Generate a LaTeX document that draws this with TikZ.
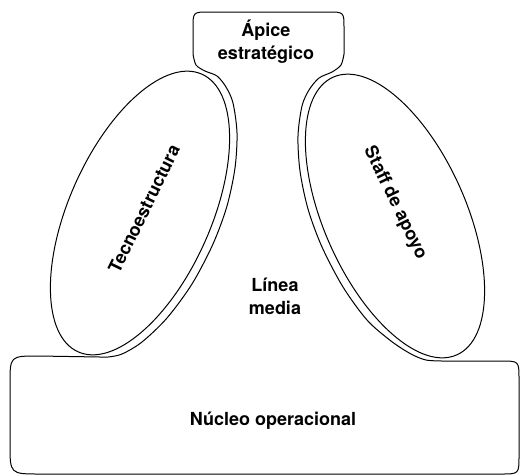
\documentclass[tikz,border=0pt]{standalone}
\usepackage{fontspec}
\setmainfont{TeX Gyre Heros}
\usetikzlibrary{shapes.geometric}

\begin{document}
\begin{tikzpicture}[x=1pt,y=-1pt,
  outline/.style={draw,line width=1pt},
  blob/.style={draw,line width=1pt,ellipse,inner sep=0pt,minimum width=304pt,minimum height=142pt},
  lbl/.style={font=\bfseries\fontsize{18}{23}\selectfont,align=center,inner sep=0pt}]
\useasboundingbox (0,0) rectangle (520,475);
\draw[outline] (100,357) -- (38,356) .. controls (10,356) .. (10,384) -- (10,444) .. controls (10,474) .. (40,474)
  -- (501,474) .. controls (519,474) .. (519,456) -- (519,379) .. controls (519,361) .. (501,361) -- (442,361)
  -- plot[smooth,tension=0.5] coordinates {(442,361) (426,360) (411,354) (391,341) (367,320) (343,287) (322,247) (308,209) (300,171) (298,136) (302,106) (309,90) (319,78) (332,72) (341,65) (344,54)}
  -- (344,28) .. controls (344,12) .. (328,12) -- (209,12) .. controls (193,12) .. (193,28)
  -- plot[smooth,tension=0.5] coordinates {(193,54) (196,65) (205,71) (217,76) (226,87) (233,103) (237,133) (235,168) (227,206) (213,244) (192,284) (167,318) (142,342) (122,354) (108,357) (100,357)} -- cycle;
\node[blob,rotate=66] (tecno) at (140,213) {};
\node[blob,rotate=-66] (staff) at (395,216) {};
\node[lbl] (apice) at (266,42) {Ápice\\estratégico};
\node[lbl,rotate=64] (tecnotxt) at (144,209) {Tecnoestructura};
\node[lbl,rotate=-64] (stafftxt) at (395,203) {Staff de apoyo};
\node[lbl] (linea) at (275,296) {Línea\\media};
\node[lbl] (nucleo) at (273,421) {Núcleo operacional};
\end{tikzpicture}
\end{document}
